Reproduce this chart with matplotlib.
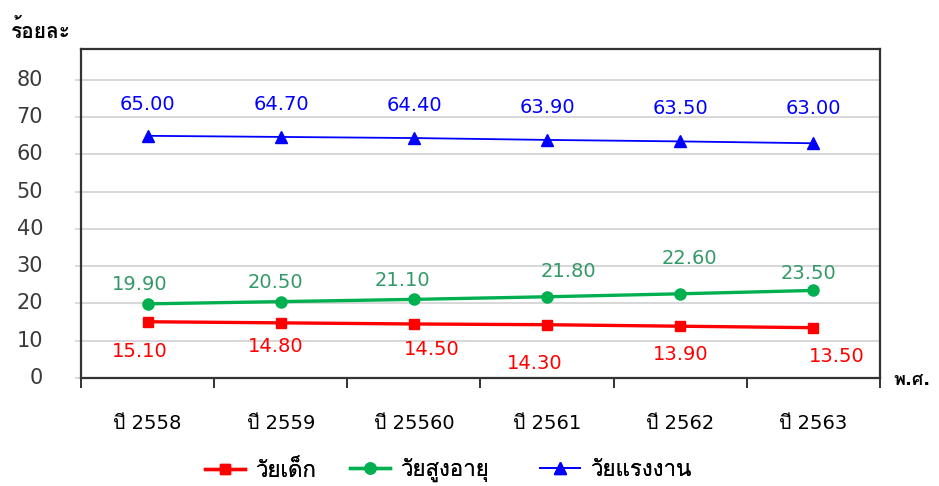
import matplotlib
matplotlib.use("Agg")
import matplotlib.pyplot as plt
import matplotlib.font_manager as fm
from matplotlib.ft2font import FT2Font
from matplotlib.lines import Line2D

years = ['ปี 2558', 'ปี 2559', 'ปี 25560', 'ปี 2561', 'ปี 2562', 'ปี 2563']
child = [15.10, 14.80, 14.50, 14.30, 13.90, 13.50]
elderly = [19.90, 20.50, 21.10, 21.80, 22.60, 23.50]
working = [65.00, 64.70, 64.40, 63.90, 63.50, 63.00]
names = ['วัยเด็ก', 'วัยสูงอายุ', 'วัยแรงงาน']
yticks = [0, 10, 20, 30, 40, 50, 60, 70, 80]


def find_thai_font():
    # pick any installed font that has Thai glyphs
    for f in fm.fontManager.ttflist:
        try:
            if 0x0E23 in FT2Font(f.fname).get_charmap():
                return f.name
        except Exception:
            pass
    return None


thai = find_thai_font()
fams = ['DejaVu Sans'] + ([thai] if thai else [])
plt.rcParams['font.family'] = fams

# label offsets in pixels (dx, dy)
off_child = [(-8, -30), (-5, -24), (18, -26), (-12, -39), (0, -28), (23, -29)]
off_eld = [(-8, 19), (-5, 19), (-11, 19), (21, 25), (9, 35), (-5, 17)]
off_work = [(0, 31), (1, 32), (1, 33), (0, 32), (0, 33), (0, 35)]

px = 72 / 100.0
W, H = 939, 486

fig = plt.figure(figsize=(9.39, 4.86), dpi=100)
ax = fig.add_axes([81 / W, 1 - 378 / H, (880 - 81) / W, (378 - 49) / H])

x = list(range(len(years)))
ax.plot(x, working, color='#0000ff', lw=1.3, marker='^', ms=9, zorder=3)
ax.plot(x, elderly, color='#00b050', lw=2.4, marker='o', ms=8, zorder=3)
ax.plot(x, child, color='#ff0000', lw=2.4, marker='s', ms=7.5, zorder=3)

for vals, offs, col in [(working, off_work, '#0000ff'),
                        (elderly, off_eld, '#339966'),
                        (child, off_child, '#ff0000')]:
    for i, v in enumerate(vals):
        ax.annotate('%.2f' % v, (i, v), xytext=(offs[i][0] * px, offs[i][1] * px),
                    textcoords='offset points', ha='center', va='center',
                    color=col, fontsize=14)

ax.set_xlim(-0.5, len(years) - 0.5)
ax.set_ylim(0, 88.3)
ax.set_yticks(yticks)
ax.grid(axis='y', color='#d4d4d4', lw=1.3)
ax.set_axisbelow(True)
ax.tick_params(axis='y', length=4, width=1.2, color='#d4d4d4', labelleft=False)
# y labels drawn by hand so they sit well left of the spine
ytr = ax.get_yaxis_transform()
for v in yticks:
    ax.text(-38 / 799, v, str(v), transform=ytr, ha='right', va='center',
            fontsize=15, color='#3a3a3a')

ax.set_xticks([i - 0.5 for i in range(len(years) + 1)])
ax.set_xticklabels([])
ax.set_xticks(x, minor=True)
ax.set_xticklabels(years, minor=True, fontsize=14)
ax.tick_params(axis='x', which='major', direction='out', length=7, width=1.3, color='#222222')
ax.tick_params(axis='x', which='minor', length=0, pad=26)

for s in ax.spines.values():
    s.set_color('#333333')
    s.set_linewidth(1.6)

fig.text(41 / W, 1 - 30 / H, 'ร้อยละ', fontsize=15, fontweight='bold',
         ha='center', va='center')
fig.text(912 / W, 1 - 380 / H, 'พ.ศ.', fontsize=13, fontweight='bold',
         ha='center', va='center')

handles = [Line2D([], [], color='#ff0000', lw=2.4, marker='s', ms=7.5),
           Line2D([], [], color='#00b050', lw=2.4, marker='o', ms=8),
           Line2D([], [], color='#0000ff', lw=1.3, marker='^', ms=9)]
leg_x = [205, 350, 540]
for h, n, lx in zip(handles, names, leg_x):
    lg = fig.legend([h], [n], loc='center left', bbox_to_anchor=(lx / W, 1 - 470 / H),
                    frameon=False, fontsize=16, handlelength=1.8, handletextpad=0.5,
                    borderpad=0, borderaxespad=0)
    fig.add_artist(lg)

fig.savefig('out.png', dpi=100)
